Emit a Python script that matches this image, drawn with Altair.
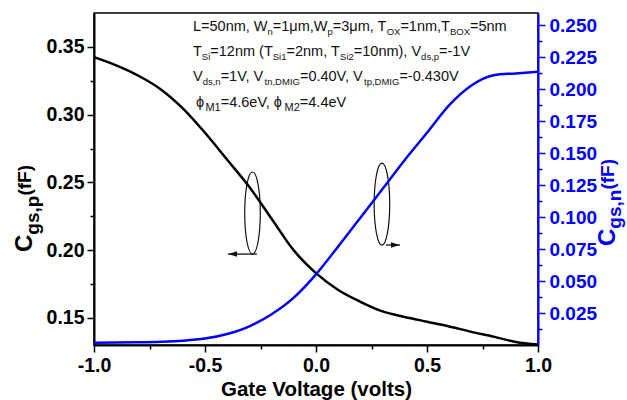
import altair as alt
import pandas as pd

# ---------------- data ----------------
gate_v = [-1.0, -0.9, -0.8, -0.7, -0.6, -0.5, -0.4, -0.3, -0.2, -0.1, 0.0,
          0.1, 0.2, 0.3, 0.4, 0.5, 0.6, 0.7, 0.8, 0.9, 1.0]
c_gs_p = [0.3424, 0.3363, 0.3287, 0.3188, 0.3046, 0.2866, 0.2667, 0.2466, 0.2232, 0.1998, 0.1830,
          0.1706, 0.1619, 0.1548, 0.1507, 0.1472, 0.1437, 0.1397, 0.1362, 0.1322, 0.1303]
c_gs_n = [0.0018, 0.0019, 0.0021, 0.0025, 0.0033, 0.0050, 0.0086, 0.0146, 0.0240, 0.0370, 0.0552,
          0.0770, 0.0994, 0.1220, 0.1446, 0.1658, 0.1874, 0.2028, 0.2108, 0.2122, 0.2135]

x_major = [-1.0, -0.5, 0.0, 0.5, 1.0]
x_minor = [-0.75, -0.25, 0.25, 0.75]
left_major = [0.15, 0.20, 0.25, 0.30, 0.35]
left_minor = [0.175, 0.225, 0.275, 0.325]
right_major = [0.025, 0.050, 0.075, 0.100, 0.125, 0.150, 0.175, 0.200, 0.225, 0.250]
right_minor = [0.0125, 0.0375, 0.0625, 0.0875, 0.1125, 0.1375, 0.1625, 0.1875, 0.2125, 0.2375]

# annotation: rings around the curves and arrows pointing to their axes
ring_v = [-0.286, 0.297]
ring_c = [0.2274, 0.2340]
arrow_from_v = [-0.266, 0.315]
arrow_to_v = [-0.396, 0.378]
arrow_c = [0.1971, 0.2038]

# text block: (text, kind) kind 0 = normal, 1 = subscript, 2 = larger subscript
text_lines = [
    [("L=50nm, W", 0), ("n", 1), ("=1μm,W", 0), ("p", 1), ("=3μm, T", 0), ("OX", 1),
     ("=1nm,T", 0), ("BOX", 1), ("=5nm", 0)],
    [("T", 0), ("Si", 1), ("=12nm (T", 0), ("Si1", 1), ("=2nm, T", 0), ("Si2", 1),
     ("=10nm), V", 0), ("ds,p", 1), ("=-1V", 0)],
    [("V", 0), ("ds,n", 1), ("=1V, V", 0), ("tn,DMIG", 1), ("=0.40V, V", 0),
     ("tp,DMIG", 1), ("=-0.430V", 0)],
    [("ϕ", 0), ("M1", 2), ("=4.6eV, ϕ", 0), ("M2", 2), ("=4.4eV", 0)],
]
left_title = [("C", 0), ("gs,p", 1), ("(fF)", 2)]
right_title = [("C", 0), ("gs,n", 1), ("(fF)", 2)]
x_title = "Gate Voltage (volts)"

# ---------------- geometry ----------------
LEFT, TOP, W, H = 94, 13, 444, 332
X_DOM = [-1.0, 1.0]
YL_DOM = [0.13, 0.375]
YR_DOM = [0.0, 0.2594]
BLUE = "#0000ff"
FONT = "Liberation Sans"


def to_v(ax):
    return X_DOM[0] + (ax - LEFT) / W * (X_DOM[1] - X_DOM[0])


def to_c(ay):
    return YL_DOM[1] - (ay - TOP) / H * (YL_DOM[1] - YL_DOM[0])


ARIAL = {'L': 556, '=': 584, 'n': 556, 'm': 833, ',': 278, ' ': 278, 'W': 944, 'μ': 576,
         'p': 556, 'T': 611, 'O': 778, 'X': 667, 'B': 667, 'S': 667, 'i': 222, '(': 333,
         ')': 333, 'V': 667, 'd': 556, 's': 500, '-': 333, 't': 278, 'D': 722, 'M': 833,
         'I': 278, 'G': 778, '.': 278, 'ϕ': 650, 'e': 556}
ARIAL_B = {'C': 722, 'g': 611, 's': 556, ',': 278, 'p': 611, 'n': 611, '(': 333,
           'f': 333, 'F': 611, ')': 333}


def width(s, fs, table):
    return sum(table.get(ch, 556) for ch in s) * fs / 1000.0


rows = []
line_x0 = [193, 193, 193, 196]
line_base = [31, 56, 81, 107]
style = {0: (14.5, 0.0), 1: (9.5, 3.5), 2: (11, 4.0)}
for segs, x0, yb in zip(text_lines, line_x0, line_base):
    x = x0
    for txt, kind in segs:
        fs, dy = style[kind]
        rows.append(dict(V=to_v(x), C=to_c(yb + dy), txt=txt, fs=fs))
        x += width(txt, fs, ARIAL)
ann_df = pd.DataFrame(rows)


def rotated_rows(segs, base_x, y0, sizes, shifts):
    out = []
    y = y0
    for txt, kind in segs:
        fs = sizes[kind]
        out.append(dict(V=to_v(base_x + shifts[kind]), C=to_c(y), txt=txt, fs=fs))
        y -= width(txt, fs, ARIAL_B)
    return pd.DataFrame(out)


lt_df = rotated_rows(left_title, 32, 252, {0: 24, 1: 19, 2: 19}, {0: 0, 1: 6.5, 2: -1})
rt_df = rotated_rows(right_title, 615, 246, {0: 24, 1: 19, 2: 19}, {0: 0, 1: 6, 2: -1})

curve_df = pd.DataFrame({"V": gate_v, "Cp": c_gs_p, "Cn": c_gs_n})
ring_df = pd.DataFrame({"V": ring_v, "C": ring_c})
arrow_df = pd.DataFrame({"V": arrow_from_v, "V2": arrow_to_v, "C": arrow_c})
head_off = 4.5 * 2 / W
head_left = pd.DataFrame({"V": [arrow_to_v[0] + head_off], "C": [arrow_c[0]]})
head_right = pd.DataFrame({"V": [arrow_to_v[1] - head_off], "C": [arrow_c[1]]})

# ---------------- scales / axes ----------------
XS = alt.Scale(domain=X_DOM, nice=False, zero=False)
YL = alt.Scale(domain=YL_DOM, nice=False, zero=False)
YR = alt.Scale(domain=YR_DOM, nice=False, zero=False)


def tick_cond(test):
    return {"condition": {"test": test, "value": 7}, "value": 4}


x_test = "abs(datum.value*2 - round(datum.value*2)) < 0.001"
l_test = "abs(datum.value*20 - round(datum.value*20)) < 0.001"
r_test = "abs(datum.value*40 - round(datum.value*40)) < 0.001"

x_axis = alt.Axis(
    values=x_major + x_minor,
    labelExpr=f"({x_test}) ? (datum.value < 0 ? '-' + format(-datum.value, '.1f') : format(datum.value, '.1f')) : ''",
    tickSize=tick_cond(x_test), tickWidth=1.5, tickColor="black",
    domainColor="black", domainWidth=2,
    labelFont=FONT, labelFontWeight="bold", labelFontSize=19.5, labelColor="black",
    labelPadding=4, labelFlush=False, labelOverlap=False, grid=False,
    title=x_title, titleFont=FONT, titleFontWeight="bold", titleFontSize=20.5,
    titleColor="black", titleY=50, titleBaseline="alphabetic",
)
left_axis = alt.Axis(
    values=left_major + left_minor,
    labelExpr=f"({l_test}) ? format(datum.value, '.2f') : ''",
    tickSize=tick_cond(l_test), tickWidth=1.5, tickColor="black",
    domainColor="black", domainWidth=2,
    labelFont=FONT, labelFontWeight="bold", labelFontSize=19.5, labelColor="black",
    labelPadding=3, labelFlush=False, labelOverlap=False, grid=False, title=None,
)
right_axis = alt.Axis(
    orient="right",
    values=right_major + right_minor,
    labelExpr=f"({r_test}) ? format(datum.value, '.3f') : ''",
    tickSize=tick_cond(r_test), tickWidth=1.5, tickColor=BLUE,
    domainColor=BLUE, domainWidth=2,
    labelFont=FONT, labelFontWeight="bold", labelFontSize=19, labelColor=BLUE,
    labelPadding=4, labelFlush=False, labelOverlap=False, grid=False, title=None,
)

XE = alt.X("V:Q", scale=XS, axis=x_axis, title=x_title)


def YE(field):
    return alt.Y(field, scale=YL, axis=left_axis, title=None)


# ---------------- marks ----------------
black_line = alt.Chart(curve_df).mark_line(
    color="black", strokeWidth=2.5, interpolate="monotone"
).encode(x=XE, y=YE("Cp:Q"))

ell_path = ("M 0.19 0 C 0.19 0.5523 0.105 1 0 1 C -0.105 1 -0.19 0.5523 -0.19 0 "
            "C -0.19 -0.5523 -0.105 -1 0 -1 C 0.105 -1 0.19 -0.5523 0.19 0 Z")
rings = alt.Chart(ring_df).mark_point(
    shape=ell_path, size=6724, filled=False, stroke="#111", strokeWidth=1.2, opacity=1
).encode(x=XE, y=YE("C:Q"))

shafts = alt.Chart(arrow_df).mark_rule(color="#111", strokeWidth=1.3).encode(
    x=XE, x2="V2:Q", y=YE("C:Q"))

hl = alt.Chart(head_left).mark_point(
    shape="M -1 0 L 1 -0.6 L 1 0.6 Z", size=81, filled=True, color="#111", opacity=1, strokeWidth=0
).encode(x=XE, y=YE("C:Q"))
hr = alt.Chart(head_right).mark_point(
    shape="M 1 0 L -1 -0.6 L -1 0.6 Z", size=81, filled=True, color="#111", opacity=1, strokeWidth=0
).encode(x=XE, y=YE("C:Q"))


def text_layer(df, color, weight, angle=0):
    return alt.Chart(df).mark_text(
        align="left", baseline="alphabetic", font=FONT, fontWeight=weight, color=color, angle=angle
    ).encode(
        x=XE, y=YE("C:Q"),
        text="txt:N",
        size=alt.Size("fs:Q", scale=None, legend=None),
    )


ann = text_layer(ann_df, "#111", "normal")
ltitle = text_layer(lt_df, "black", "bold", 270)
rtitle = text_layer(rt_df, BLUE, "bold", 270)

left_group = alt.layer(black_line, rings, shafts, hl, hr, ann, ltitle, rtitle)

blue_line = alt.Chart(curve_df).mark_line(
    color=BLUE, strokeWidth=2.5, interpolate="monotone"
).encode(x=XE, y=alt.Y("Cn:Q", scale=YR, axis=right_axis, title=None))

chart = alt.layer(left_group, blue_line).resolve_scale(y="independent").properties(
    width=W, height=H,
    padding={"left": LEFT, "top": TOP, "right": 627 - LEFT - W, "bottom": 400 - TOP - H},
    autosize=alt.AutoSizeParams(type="none"),
    background="white",
).configure_view(stroke="black", strokeWidth=1.5).configure_axis(grid=False)

chart.save("out.html", embed_options={"renderer": "svg", "actions": False})
